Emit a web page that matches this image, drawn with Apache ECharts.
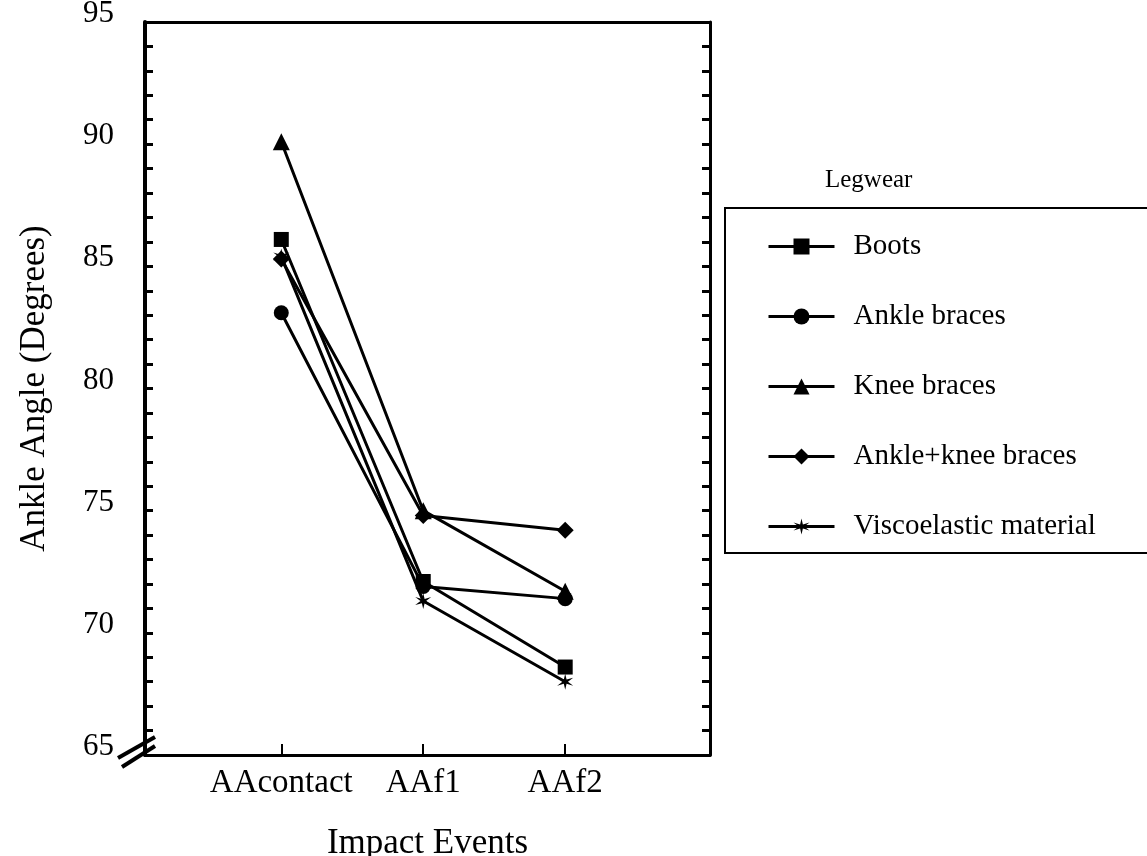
<!DOCTYPE html>
<html>
<head>
<meta charset="utf-8">
<script src="https://cdn.jsdelivr.net/npm/echarts@6/dist/echarts.min.js"></script>
<style>
  html, body { margin: 0; padding: 0; background: #fff; }
  #chart { width: 1147px; height: 856px; }
</style>
</head>
<body>
<div id="chart"></div>
<script>
// categories on the x axis (placed at 1, 2, 3)
var events = ["AAcontact", "AAf1", "AAf2"];
var seriesNames = ["Boots", "Ankle braces", "Knee braces", "Ankle+knee braces", "Viscoelastic material"];
// ankle angle in degrees at each event
var boots = [86.1, 72.1, 68.6];
var ankleBraces = [83.1, 71.9, 71.4];
var kneeBraces = [90.1, 75.0, 71.7];
var ankleKneeBraces = [85.3, 74.8, 74.2];
var viscoelastic = [85.4, 71.3, 68.0];

var starPath = "path://M0,-10 L1.5,-2.6 L8.66,-5 L3,0 L8.66,5 L1.5,2.6 L0,10 L-1.5,2.6 L-8.66,5 L-3,0 L-8.66,-5 L-1.5,-2.6 Z";
var symbols = ["rect", "circle", "triangle", "diamond", starPath];
var sizes = [15, 15, 17, 17, 16];
var zs = [4, 3, 3, 5, 2];
var values = [boots, ankleBraces, kneeBraces, ankleKneeBraces, viscoelastic];

var font = "Liberation Serif";

function toPoints(arr) {
  return arr.map(function (v, i) { return [i + 1, v]; });
}

var series = seriesNames.map(function (name, k) {
  return {
    name: name,
    type: "line",
    z: zs[k],
    data: toPoints(values[k]),
    symbol: symbols[k],
    symbolSize: sizes[k],
    lineStyle: { color: "#000", width: 3 },
    itemStyle: { color: "#000" },
    animation: false
  };
});

var myChart = echarts.init(document.getElementById("chart"));
var option = {
  backgroundColor: "#fff",
  animation: false,
  title: {
    text: "Legwear",
    left: 820,
    top: 163,
    textStyle: { fontFamily: font, fontSize: 25, fontWeight: "normal", color: "#000" }
  },
  legend: {
    orient: "vertical",
    left: 762,
    top: 227,
    itemWidth: 66,
    itemHeight: 20,
    itemGap: 41,
    data: seriesNames,
    lineStyle: { width: 3 },
    textStyle: { fontFamily: font, fontSize: 29, color: "#000", padding: [0, 0, 0, 14] }
  },
  grid: { left: 145, top: 22, width: 565, height: 733, outerBoundsMode: "none" },
  xAxis: [{
    type: "value",
    min: 0.04,
    max: 4.02,
    name: "Impact Events",
    nameLocation: "middle",
    nameGap: 71,
    nameTextStyle: { fontFamily: font, fontSize: 35, color: "#000" },
    splitLine: { show: false },
    axisLine: { lineStyle: { color: "#000", width: 3 } },
    axisTick: { inside: true, length: 11, customValues: [1, 2, 3], lineStyle: { color: "#000", width: 2 } },
    axisLabel: {
      customValues: [1, 2, 3],
      margin: 12,
      fontFamily: font, fontSize: 33, color: "#000",
      formatter: function (v) { return events[Math.round(v) - 1] || ""; }
    }
  }, {
    type: "value",
    position: "top",
    min: 0.04,
    max: 4.02,
    splitLine: { show: false },
    axisLine: { show: true, lineStyle: { color: "#000", width: 3 } },
    axisTick: { show: false },
    axisLabel: { show: false }
  }],
  yAxis: [{
    type: "value",
    min: 65,
    max: 95,
    interval: 1,
    name: "Ankle Angle (Degrees)",
    nameLocation: "middle",
    nameGap: 93,
    nameTextStyle: { fontFamily: font, fontSize: 35, color: "#000" },
    splitLine: { show: false },
    axisLine: { show: true, lineStyle: { color: "#000", width: 4 } },
    axisTick: { inside: true, length: 8, lineStyle: { color: "#000", width: 3 } },
    axisLabel: {
      margin: 31,
      verticalAlign: "bottom",
      lineHeight: 16,
      fontFamily: font, fontSize: 31, color: "#000",
      formatter: function (v) { return v % 5 === 0 ? String(v) : ""; }
    }
  }, {
    type: "value",
    position: "right",
    min: 65,
    max: 95,
    interval: 1,
    splitLine: { show: false },
    axisLine: { show: true, lineStyle: { color: "#000", width: 3 } },
    axisTick: { inside: true, length: 8, lineStyle: { color: "#000", width: 3 } },
    axisLabel: { show: false }
  }],
  graphic: [
    {
      type: "rect",
      shape: { x: 725, y: 208, width: 440, height: 345 },
      style: { fill: "none", stroke: "#000", lineWidth: 2 }
    },
    {
      type: "line",
      shape: { x1: 118, y1: 758, x2: 155, y2: 737 },
      style: { stroke: "#000", lineWidth: 4 }
    },
    {
      type: "line",
      shape: { x1: 122, y1: 767, x2: 155, y2: 746 },
      style: { stroke: "#000", lineWidth: 4 }
    }
  ],
  series: series
};
myChart.setOption(option);
</script>
</body>
</html>
